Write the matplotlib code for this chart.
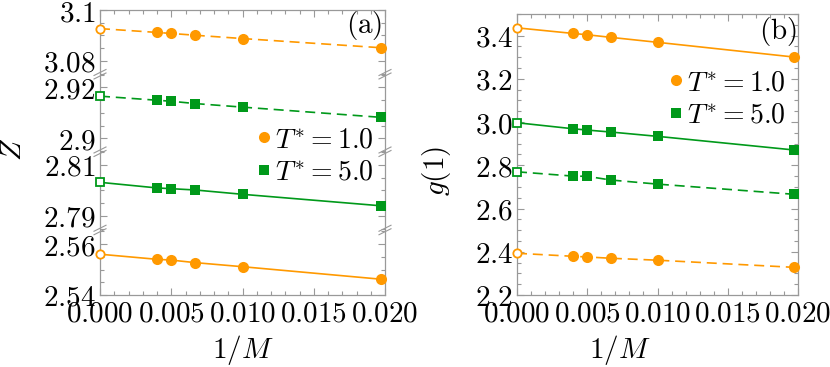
import numpy as np
import matplotlib
matplotlib.use('Agg')
import matplotlib.pyplot as plt
from matplotlib.lines import Line2D
from matplotlib.ticker import FixedLocator, FixedFormatter, MultipleLocator, FormatStrFormatter

plt.rcParams['mathtext.fontset'] = 'cm'
plt.rcParams['font.family'] = 'serif'

# data
inv_m = [0.0, 0.004, 0.005, 0.00667, 0.010, 0.0197]

# panel (a): Z
z_t1_dashed = [3.0927, 3.0912, 3.0908, 3.0901, 3.0888, 3.0852]
z_t5_dashed = [2.9166, 2.9150, 2.9146, 2.9137, 2.9123, 2.9083]
z_t5_solid = [2.8032, 2.8010, 2.8007, 2.8002, 2.7985, 2.7940]
z_t1_solid = [2.5560, 2.5540, 2.5537, 2.5527, 2.5511, 2.5462]

# panel (b): g(1)
g_t1_solid = [3.436, 3.410, 3.404, 3.392, 3.369, 3.301]
g_t5_solid = [2.997, 2.969, 2.963, 2.954, 2.934, 2.871]
g_t5_dashed = [2.770, 2.750, 2.749, 2.732, 2.713, 2.666]
g_t1_dashed = [2.393, 2.379, 2.376, 2.370, 2.361, 2.328]

# broken y axis segments of panel (a)
z_segments = [(2.54, 2.5655), (2.7845, 2.8152), (2.8948, 2.9252), (3.0748, 3.1)]
z_ticks = [2.54, 2.56, 2.79, 2.81, 2.9, 2.92, 3.08, 3.1]
z_ticklabels = ['2.54', '2.56', '2.79', '2.81', '2.9', '2.92', '3.08', '3.1']

x_ticks = [0.0, 0.005, 0.010, 0.015, 0.020]
x_ticklabels = ['0.000', '0.005', '0.010', '0.015', '0.020']

orange = '#ff9900'
green = '#00991a'
frame = '#999999'
fs = 21

# piecewise scale that squeezes the gaps
d_bp, c_bp = [], []
c = 0.0
for lo, hi in z_segments:
    d_bp += [lo, hi]
    c_bp += [c, c + hi - lo]
    c += hi - lo + 1e-7


def z_fwd(v):
    return np.interp(v, d_bp, c_bp)


def z_inv(v):
    return np.interp(v, c_bp, d_bp)


fig = plt.figure(figsize=(8.3, 3.67), dpi=100)
ax1 = fig.add_axes([100 / 830, 1 - 295 / 367, 285 / 830, 285 / 367])
ax2 = fig.add_axes([517 / 830, 1 - 295 / 367, 281 / 830, 281 / 367])


def series(ax, y, color, marker, dashed):
    ls = (0, (6, 3.5)) if dashed else '-'
    ax.plot(inv_m, y, color=color, lw=1.2, ls=ls, zorder=2)
    ax.plot(inv_m[1:], y[1:], ls='none', marker=marker, color=color,
            ms=8 if marker == 'o' else 7.5, mew=0, zorder=3, clip_on=False)
    ax.plot(inv_m[:1], y[:1], ls='none', marker=marker, mfc='white', mec=color,
            ms=6 if marker == 'o' else 5.5, mew=1.3, zorder=4, clip_on=False)


series(ax1, z_t1_dashed, orange, 'o', True)
series(ax1, z_t5_dashed, green, 's', True)
series(ax1, z_t5_solid, green, 's', False)
series(ax1, z_t1_solid, orange, 'o', False)

series(ax2, g_t1_solid, orange, 'o', False)
series(ax2, g_t5_solid, green, 's', False)
series(ax2, g_t5_dashed, green, 's', True)
series(ax2, g_t1_dashed, orange, 'o', True)

ax1.set_yscale('function', functions=(z_fwd, z_inv))
ax1.set_ylim(2.54, 3.1)
ax1.yaxis.set_major_locator(FixedLocator(z_ticks))
ax1.yaxis.set_major_formatter(FixedFormatter(['$%s$' % t for t in z_ticklabels]))
z_minor = []
for lo, hi in z_segments:
    v = np.ceil(lo / 0.005) * 0.005
    while v <= hi + 1e-9:
        if min(abs(v - t) for t in z_ticks) > 1e-6:
            z_minor.append(round(v, 4))
        v += 0.005
ax1.yaxis.set_minor_locator(FixedLocator(z_minor))

ax2.set_ylim(2.2, 3.5)
ax2.yaxis.set_major_locator(MultipleLocator(0.2))
ax2.yaxis.set_major_formatter(FormatStrFormatter('$%.1f$'))
ax2.yaxis.set_minor_locator(MultipleLocator(0.05))

for ax in (ax1, ax2):
    ax.set_xlim(0, 0.02)
    ax.xaxis.set_major_locator(FixedLocator(x_ticks))
    ax.xaxis.set_major_formatter(FixedFormatter(['$%s$' % t for t in x_ticklabels]))
    ax.xaxis.set_minor_locator(MultipleLocator(0.001))
    ax.tick_params(which='both', direction='in', top=True, right=True,
                   color=frame, width=0.8, labelsize=fs, pad=3)
    ax.tick_params(which='major', length=5)
    ax.tick_params(which='minor', length=3)
    for s in ax.spines.values():
        s.set_color(frame)
        s.set_linewidth(0.9)
    ax.set_xlabel('$1/M$', fontsize=fs)

ax1.xaxis.set_label_coords(0.5, -0.135)
ax2.xaxis.set_label_coords(0.367, -0.135)
ax1.set_ylabel('$Z$', fontsize=fs)
ax1.yaxis.set_label_coords(-0.255, 0.51)
ax2.set_ylabel('$g(1)$', fontsize=fs)
ax2.yaxis.set_label_coords(-0.228, 0.44)

# axis break marks
total = c_bp[-1]
dx, dy, sep = 6 / 285, 3 / 285, 3.5 / 285
for k in range(len(z_segments) - 1):
    f = (c_bp[2 * k + 1] + c_bp[2 * k + 2]) / 2 / total
    for xs in (0, 1):
        for off in (-sep / 2, sep / 2):
            ax1.plot([xs - dx, xs + dx], [f + off - dy, f + off + dy], color=frame,
                     lw=0.8, transform=ax1.transAxes, clip_on=False, zorder=5)

ax1.text(0.99, 0.947, r'$(\mathrm{a})$', transform=ax1.transAxes, fontsize=fs,
         ha='right', va='center')
ax2.text(0.995, 0.936, r'$(\mathrm{b})$', transform=ax2.transAxes, fontsize=fs,
         ha='right', va='center')

handles = [
    Line2D([], [], ls='none', marker='o', color=orange, ms=8, mew=0),
    Line2D([], [], ls='none', marker='s', color=green, ms=7.5, mew=0),
]
labels = ['$T^{*}=1.0$', '$T^{*}=5.0$']
ax1.legend(handles, labels, loc='center right', bbox_to_anchor=(0.96, 0.488),
           frameon=False, fontsize=20, handlelength=0.5, handletextpad=0.15,
           labelspacing=0.2, borderpad=0, borderaxespad=0)
ax2.legend(handles, labels, loc='center right', bbox_to_anchor=(0.955, 0.698),
           frameon=False, fontsize=20, handlelength=0.5, handletextpad=0.15,
           labelspacing=0.2, borderpad=0, borderaxespad=0)

fig.savefig('out.png', dpi=100)
